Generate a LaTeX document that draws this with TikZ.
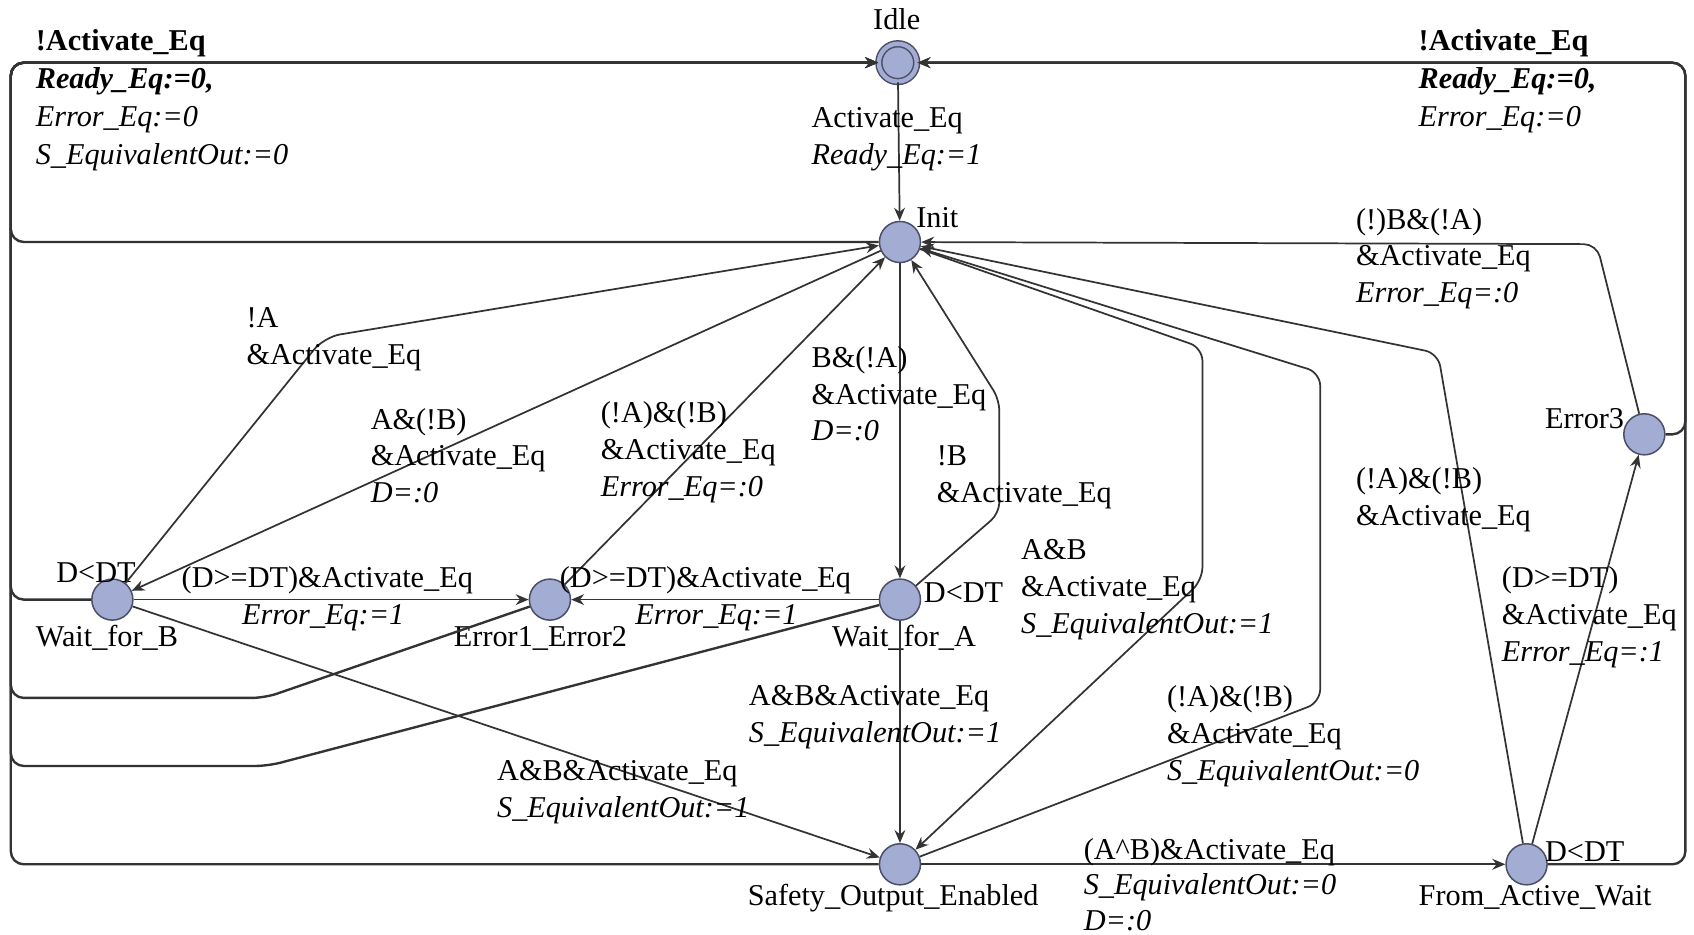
\documentclass[tikz,border=0pt]{standalone}
\usepackage{fontspec}
\setmainfont{Liberation Serif}
\usepackage{tikz}
\usetikzlibrary{arrows.meta}
\definecolor{locfill}{HTML}{A3ACD2}
\definecolor{locline}{HTML}{4B5068}
\definecolor{edgegray}{HTML}{333333}
\tikzset{
  every node/.style={font=\fontsize{28}{34}\selectfont},
  locnode/.style={circle,draw=locline,fill=locfill,line width=1.4pt,minimum size=38pt,inner sep=0pt},
  initnode/.style={locnode,minimum size=35pt,double=locfill,double distance=4pt},
  edge/.style={edgegray,line width=1.6pt,-{Stealth[length=12pt,width=10pt,inset=4pt]}},
  loopedge/.style={edge,line width=2.2pt,rounded corners=12pt},
  loctxt/.style={anchor=base west,inner sep=0pt},
  lbl/.style={anchor=north west,inner sep=0pt,align=left},
}

\begin{document}
\begin{tikzpicture}[x=1pt,y=-1pt]
  \useasboundingbox (0,0) rectangle (1568,865);
  % locations
  \node[initnode] (nIdle) at (831,58) {};
  \node[locnode] (nInit) at (833,224) {};
  \node[locnode] (nWB) at (104,555) {};
  \node[locnode] (nErr) at (509,555) {};
  \node[locnode] (nWA) at (833,555) {};
  \node[locnode] (nSOE) at (833,800) {};
  \node[locnode] (nFAW) at (1413,800) {};
  \node[locnode] (nErr3) at (1522,402) {};
  % location names and invariants
  \node[loctxt,anchor=base] (tIdle) at (830,27) {Idle};
  \node[loctxt] (tInit) at (848,211) {Init};
  \node[loctxt] (iWB) at (52,539) {D<DT};
  \node[loctxt] (tWB) at (33,598) {Wait\_for\_B};
  \node[loctxt] (tErr) at (420,598) {Error1\_Error2};
  \node[loctxt] (iWA) at (855,558) {D<DT};
  \node[loctxt] (tWA) at (770,598) {Wait\_for\_A};
  \node[loctxt] (tSOE) at (692,838) {Safety\_Output\_Enabled};
  \node[loctxt] (iFAW) at (1430,797) {D<DT};
  \node[loctxt] (tFAW) at (1313,838) {From\_Active\_Wait};
  \node[loctxt] (tErr3) at (1430,397) {Error3};
  % back to Idle
  \draw[loopedge] (nInit) -- (10,224) -- (10,58) -- (nIdle);
  \draw[loopedge] (nWB) -- (10,555) -- (10,58) -- (nIdle);
  \draw[loopedge] (nErr) -- (245,646) -- (10,646) -- (10,58) -- (nIdle);
  \draw[loopedge] (nWA) -- (248,709) -- (10,709) -- (10,58) -- (nIdle);
  \draw[loopedge] (nSOE) -- (10,800) -- (10,58) -- (nIdle);
  \draw[loopedge] (nFAW) -- (1560,800) -- (1560,58) -- (nIdle);
  \draw[loopedge] (nErr3) -- (1560,402) -- (1560,58) -- (nIdle);
  % transitions
  \draw[edge] (nIdle) -- (nInit);
  \draw[edge,rounded corners=15pt] (nWB) -- (300,312) -- (nInit);
  \draw[edge] (nInit) -- (nWB);
  \draw[edge] (nErr) -- (nInit);
  \draw[edge] (nInit) -- (nWA);
  \draw[edge,rounded corners=10pt] (nWA) -- (925,475) -- (925,370) -- (nInit);
  \draw[edge,rounded corners=12pt] (nInit) -- (1113,322) -- (1113,537) -- (nSOE);
  \draw[edge,rounded corners=12pt] (nSOE) -- (1222,650) -- (1222,345) -- (nInit);
  \draw[edge,rounded corners=12pt] (nFAW) -- (1331,327) -- (nInit);
  \draw[edge,rounded corners=12pt] (nErr3) -- (1478,226) -- (nInit);
  \draw[edge] (nWB) -- (nErr);
  \draw[edge] (nWA) -- (nErr);
  \draw[edge] (nWB) -- (nSOE);
  \draw[edge] (nWA) -- (nSOE);
  \draw[edge] (nSOE) -- (nFAW);
  \draw[edge] (nFAW) -- (nErr3);
  % guards and updates
  \node[lbl,font=\fontsize{28}{35}\selectfont] (gLeft) at (33,27.5)
    {\textbf{!Activate\_Eq}\\\textbf{\textit{Ready\_Eq:=0,}}\\\textit{Error\_Eq:=0}\\\textit{S\_EquivalentOut:=0}};
  \node[lbl,font=\fontsize{28}{35}\selectfont] (gRight) at (1313,27.5)
    {\textbf{!Activate\_Eq}\\\textbf{\textit{Ready\_Eq:=0,}}\\\textit{Error\_Eq:=0}};
  \node[lbl] (gIdle) at (751,99.5) {Activate\_Eq\\\textit{Ready\_Eq:=1}};
  \node[lbl] (gWBInit) at (228,284.5) {!A\\\&Activate\_Eq};
  \node[lbl] (gInitWB) at (343,377.5) {A\&(!B)\\\&Activate\_Eq\\\textit{D=:0}};
  \node[lbl] (gErrInit) at (556,371.5) {(!A)\&(!B)\\\&Activate\_Eq\\\textit{Error\_Eq=:0}};
  \node[lbl] (gInitWA) at (751,320.5) {B\&(!A)\\\&Activate\_Eq\\\textit{D=:0}};
  \node[lbl] (gWAInit) at (867,412.5) {!B\\\&Activate\_Eq};
  \node[lbl] (gErr3Init) at (1255,192.5) {(!)B\&(!A)\\\&Activate\_Eq\\\textit{Error\_Eq=:0}};
  \node[lbl] (gFAWInit) at (1255,432.5) {(!A)\&(!B)\\\&Activate\_Eq};
  \node[lbl] (gInitSOE) at (945,499.5) {A\&B\\\&Activate\_Eq\\\textit{S\_EquivalentOut:=1}};
  \node[lbl] (gWBErr) at (168,524.5) {(D>=DT)\&Activate\_Eq\\\hspace*{56pt}\textit{Error\_Eq:=1}};
  \node[lbl] (gWAErr) at (518,524.5) {(D>=DT)\&Activate\_Eq\\\hspace*{70pt}\textit{Error\_Eq:=1}};
  \node[lbl] (gWASOE) at (693,634.5) {A\&B\&Activate\_Eq\\\textit{S\_EquivalentOut:=1}};
  \node[lbl] (gWBSOE) at (460,703.5) {A\&B\&Activate\_Eq\\\textit{S\_EquivalentOut:=1}};
  \node[lbl] (gSOEInit) at (1080,634.5) {(!A)\&(!B)\\\&Activate\_Eq\\\textit{S\_EquivalentOut:=0}};
  \node[lbl,font=\fontsize{28}{33}\selectfont] (gSOEFAW) at (1003,775.5) {(A\textasciicircum B)\&Activate\_Eq\\\textit{S\_EquivalentOut:=0}\\\textit{D=:0}};
  \node[lbl] (gFAWErr3) at (1390,524.5) {(D>=DT)\\\&Activate\_Eq\\\textit{Error\_Eq=:1}};
\end{tikzpicture}
\end{document}
